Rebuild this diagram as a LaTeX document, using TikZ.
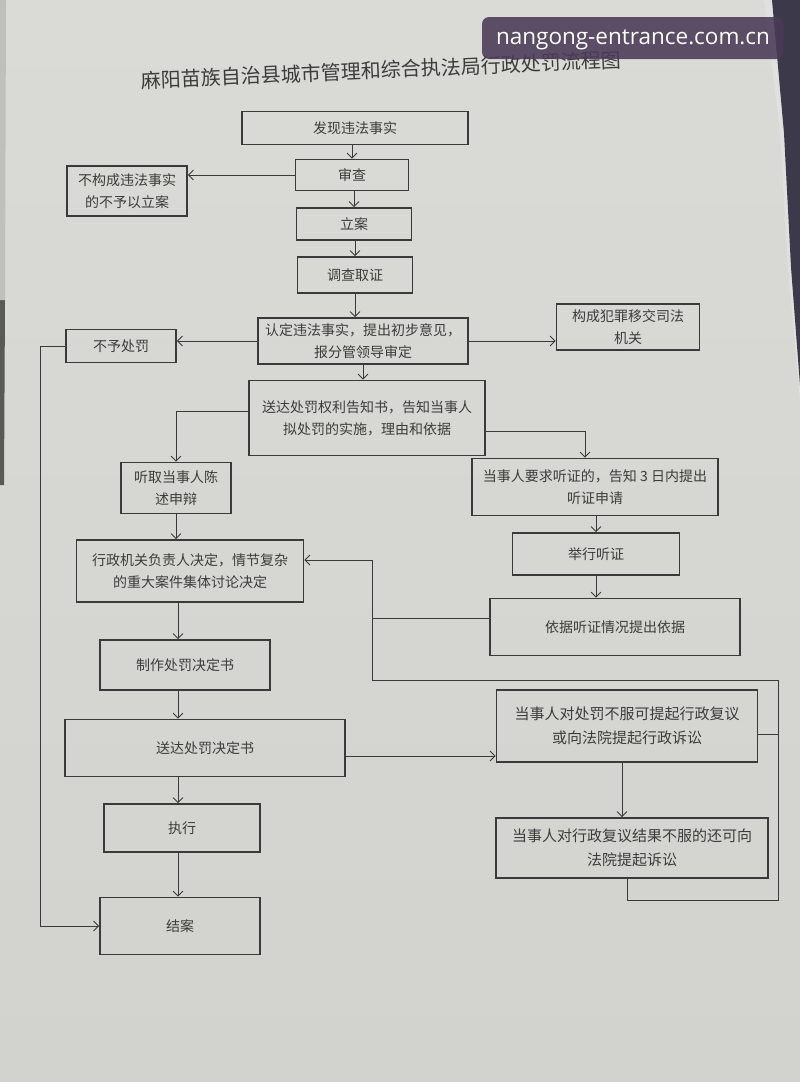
\documentclass[tikz,border=0pt]{standalone}
\usepackage{fontspec}
\setmainfont{Noto Sans CJK SC}
\newfontfamily\wmfont{Open Sans}
\usetikzlibrary{arrows.meta,calc}
\definecolor{paper}{HTML}{DADBD6}
\definecolor{paperlow}{HTML}{D2D3CE}
\definecolor{linec}{HTML}{3A3A3A}
\definecolor{textc}{HTML}{3C3C3C}
\definecolor{wmc}{HTML}{4A3A56}
\definecolor{bgdark}{HTML}{3C3A4A}
\begin{document}
\begin{tikzpicture}[x=1pt,y=-1pt,
  box/.style={draw=linec, line width=1.6pt, align=center, text=textc,
    font=\fontsize{14}{22}\selectfont, inner sep=0pt},
  ln/.style={draw=linec, line width=0.9pt},
  arr/.style={ln, -{Straight Barb[length=5pt,width=10pt]}}]
\useasboundingbox (0,0) rectangle (800,1082);
% paper and background
\shade[top color=paper, bottom color=paperlow] (0,0) rectangle (800,1082);
\fill[black!12] (764,0) -- (772,0) -- (784,133) -- (791,267) -- (800,385) -- (800,400) -- (788,267) -- (780,133) -- cycle;
\fill[bgdark] (772,0) -- (800,0) -- (800,385) -- (791,267) -- (784,133) -- cycle;
\fill[black!65] (0,300) -- (5,300) -- (4,485) -- (0,485) -- cycle;
\fill[black!25] (0,0) -- (6,0) -- (5,300) -- (0,300) -- cycle;

% title
\node[text=textc, font=\fontsize{20}{24}\selectfont, rotate=2.5] (title) at (381,70) {麻阳苗族自治县城市管理和综合执法局行政处罚流程图};

% boxes
\node[box, minimum width=226pt, minimum height=33pt] (found) at (355,128) {发现违法事实};
\node[box, minimum width=113pt, minimum height=31pt] (review) at (352,175) {审查};
\node[box, minimum width=120pt, minimum height=50pt] (norecord) at (127,191) {不构成违法事实\\的不予以立案};
\node[box, minimum width=115pt, minimum height=32pt] (filed) at (354,224) {立案};
\node[box, minimum width=115pt, minimum height=36pt] (invest) at (355,275) {调查取证};
\node[box, minimum width=210pt, minimum height=46pt] (determine) at (363,341) {认定违法事实，提出初步意见，\\报分管领导审定};
\node[box, minimum width=110pt, minimum height=33pt] (nopenalty) at (121,346) {不予处罚};
\node[box, minimum width=143pt, minimum height=46pt] (crime) at (628,327) {构成犯罪移交司法\\机关};
\node[box, minimum width=236pt, minimum height=75pt] (notice) at (367,418) {送达处罚权利告知书，告知当事人\\拟处罚的实施，理由和依据};
\node[box, minimum width=110pt, minimum height=51pt] (statement) at (176,488) {听取当事人陈\\述申辩};
\node[box, minimum width=246pt, minimum height=57pt] (hearreq) at (595,487) {当事人要求听证的，告知 3 日内提出\\听证申请};
\node[box, minimum width=227pt, minimum height=62pt] (decide) at (190,571) {行政机关负责人决定，情节复杂\\的重大案件集体讨论决定};
\node[box, minimum width=167pt, minimum height=42pt] (hold) at (596,554) {举行听证};
\node[box, minimum width=250pt, minimum height=57pt] (basis) at (615,627) {依据听证情况提出依据};
\node[box, minimum width=170pt, minimum height=50pt] (make) at (185,665) {制作处罚决定书};
\node[box, minimum width=261pt, minimum height=72pt, font=\fontsize{15}{24}\selectfont] (appeal) at (627,726) {当事人对处罚不服可提起行政复议\\或向法院提起行政诉讼};
\node[box, minimum width=280pt, minimum height=57pt] (deliver) at (205,748) {送达处罚决定书};
\node[box, minimum width=156pt, minimum height=48pt] (execute) at (182,828) {执行};
\node[box, minimum width=272pt, minimum height=60pt, font=\fontsize{15}{24}\selectfont] (suit) at (632,848) {当事人对行政复议结果不服的还可向\\法院提起诉讼};
\node[box, minimum width=160pt, minimum height=57pt] (close) at (180,926) {结案};

% helper coordinates
\coordinate (spine) at (178,0);
\coordinate (lx) at (40,0);
\coordinate (jA) at (372,680);
\coordinate (jB) at (372,560);
\coordinate (rt) at (778,680);
\coordinate (rb) at (778,900);
\coordinate (hx) at (585,0);
\coordinate (ax) at (622,0);
\coordinate (sx) at (627,0);

% connectors: main column
\draw[arr] (found.south -| review.north) -- (review.north);
\draw[arr] (review.west) -- (review.west -| norecord.east);
\draw[arr] (review.south -| filed.north) -- (filed.north);
\draw[arr] (filed.south -| invest.north) -- (invest.north);
\draw[arr] (invest.south) -- (invest.south |- determine.north);
\draw[arr] (determine.west) -- (determine.west -| nopenalty.east);
\draw[arr] (determine.east) -- (determine.east -| crime.west);
\draw[arr] (determine.south) -- (determine.south |- notice.north);
\draw[arr] ([yshift=7pt]notice.west) -| (statement.north);
\draw[arr] ([yshift=-13pt]notice.east) -| (hearreq.north -| hx);
\draw[arr] (statement.south) -- (statement.south |- decide.north);
\draw[arr] (hearreq.south -| hold.north) -- (hold.north);
\draw[arr] (hold.south) -- (hold.south |- basis.north);
% feedback to decision
\draw[ln] ([yshift=9pt]basis.west) -- ([yshift=9pt]basis.west -| jA);
\draw[arr] (jA) -- (jB) -- (jB -| decide.east);
\draw[ln] ([yshift=-8pt]appeal.east) -- ([yshift=-8pt]appeal.east -| rt);
\draw[ln] (suit.south -| sx) |- (rb) -- (rt) -- (jA);
% lower column
\draw[arr] (decide.south -| spine) -- (make.north -| spine);
\draw[arr] (make.south -| spine) -- (deliver.north -| spine);
\draw[arr] (deliver.south -| spine) -- (execute.north -| spine);
\draw[arr] (execute.south -| spine) -- (close.north -| spine);
\draw[arr] ([yshift=-8pt]deliver.east) -- ([yshift=-8pt]deliver.east -| appeal.west);
\draw[arr] (appeal.south -| ax) -- (suit.north -| ax);
% no penalty to close
\draw[arr] (nopenalty.west) -- (nopenalty.west -| lx) |- (close.west);

% watermark
\fill[wmc, opacity=0.88, rounded corners=7pt] (482,17) rectangle (783,59);
\node[text=white, font=\wmfont\fontsize{22.5}{26}\selectfont, anchor=center] (wm) at (633,40) {nangong-entrance.com.cn};
\end{tikzpicture}
\end{document}
